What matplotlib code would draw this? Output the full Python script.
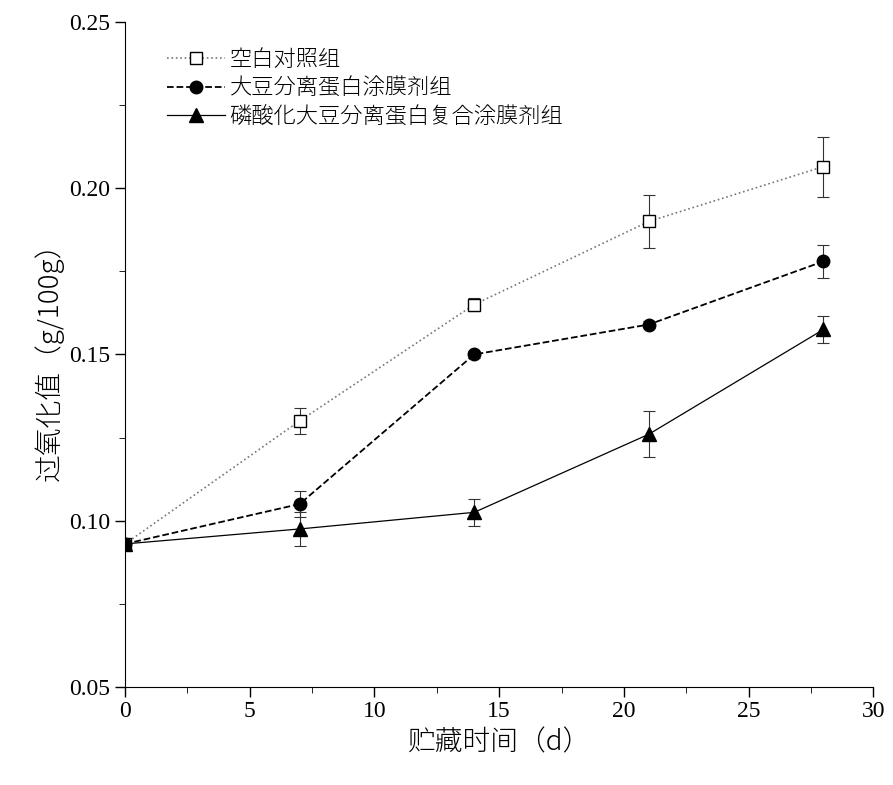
import matplotlib
matplotlib.use("Agg")
import matplotlib.pyplot as plt
from matplotlib.ticker import MultipleLocator
from matplotlib import font_manager as fm

days = [0, 7, 14, 21, 28]
blank = [0.093, 0.130, 0.165, 0.190, 0.2065]
blank_err = [0.0, 0.004, 0.002, 0.008, 0.009]
soy = [0.093, 0.105, 0.150, 0.159, 0.178]
soy_err = [0.0, 0.004, 0.001, 0.001, 0.005]
phos = [0.093, 0.0975, 0.1025, 0.126, 0.1575]
phos_err = [0.001, 0.005, 0.004, 0.007, 0.004]
labels = ["空白对照组", "大豆分离蛋白涂膜剂组", "磷酸化大豆分离蛋白复合涂膜剂组"]

cjk_path = None
for f in fm.findSystemFonts():
    n = f.lower().replace("-", "").replace("_", "")
    if "notosanscjk" in n or "notoserifcjk" in n:
        cjk_path = f
        if "sc" in n or ".ttc" in n:
            break
def cjkprop(size):
    if cjk_path:
        return fm.FontProperties(fname=cjk_path, size=size)
    return fm.FontProperties(family=["Noto Sans CJK SC", "Noto Sans CJK JP"], size=size)

plt.rcParams["font.family"] = "Liberation Serif"

fig = plt.figure(figsize=(8.93, 7.85), dpi=100)
ax = fig.add_axes([0.140, 0.125, 0.838, 0.847])

kw = dict(capsize=4, elinewidth=0.8, capthick=0.8, ecolor="#333333")
e1 = ax.errorbar(days, blank, yerr=blank_err, color="#777777", ls=":", lw=1.2,
                 marker="s", mfc="white", mec="black", ms=9, **kw)
e2 = ax.errorbar(days, soy, yerr=soy_err, color="black", ls="--", lw=1.3,
                 marker="o", ms=9, **kw)
e3 = ax.errorbar(days, phos, yerr=phos_err, color="black", ls="-", lw=0.9,
                 marker="^", ms=10, **kw)

ax.set_xlim(0, 30)
ax.set_ylim(0.05, 0.25)
ax.xaxis.set_major_locator(MultipleLocator(5))
ax.xaxis.set_minor_locator(MultipleLocator(2.5))
ax.yaxis.set_major_locator(MultipleLocator(0.05))
ax.yaxis.set_minor_locator(MultipleLocator(0.025))
ax.yaxis.set_major_formatter(matplotlib.ticker.FormatStrFormatter("%.2f"))
ax.spines["top"].set_visible(False)
ax.spines["right"].set_visible(False)
ax.tick_params(labelsize=17, length=7, width=1)
ax.tick_params(which="minor", length=4)

ax.set_xlabel("贮藏时间（d）", fontproperties=cjkprop(20))
ax.set_ylabel("过氧化值（g/100g）", fontproperties=cjkprop(20))

ax.legend([e1.lines[0], e2.lines[0], e3.lines[0]], labels,
          loc="upper left", bbox_to_anchor=(0.03, 0.99), frameon=False,
          prop=cjkprop(16), handlelength=2.6,
          labelspacing=0.3, handletextpad=0.2)

fig.savefig("out.png", dpi=100)
